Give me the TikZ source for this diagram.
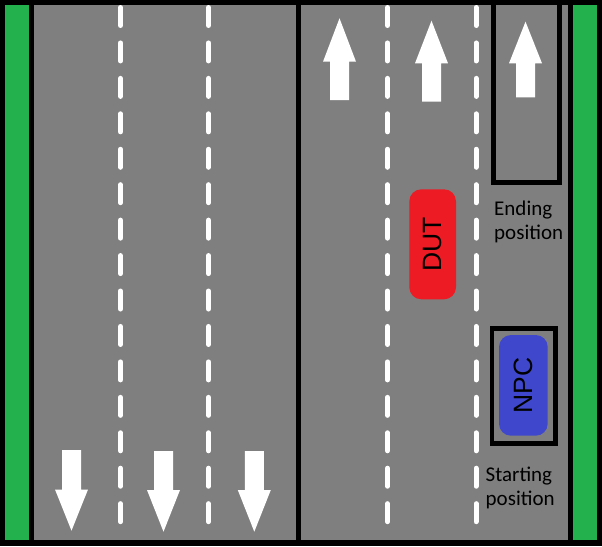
\documentclass[tikz,border=0pt]{standalone}
\usepackage{fontspec}
\setmainfont{Carlito}
\newfontfamily\carfont{Liberation Sans}
\definecolor{roadgray}{HTML}{7F7F7F}
\definecolor{verge}{HTML}{22B14C}
\definecolor{dutred}{HTML}{ED1C24}
\definecolor{npcblue}{HTML}{3F48CC}
\newcommand\roadarrow[4]{%
  \fill[arrowfill] (#1,#2) -- (#1+16.5,#3) -- (#1+9.5,#3) -- (#1+9.5,#4)
     -- (#1-9.5,#4) -- (#1-9.5,#3) -- (#1-16.5,#3) -- cycle;}
\begin{document}
\begin{tikzpicture}[x=1pt,y=-1pt,
  arrowfill/.style={fill=white},
  lanedash/.style={draw=white,line width=5pt,line cap=round,dash pattern=on 18pt off 17.44pt},
  carbox/.style={rectangle,rounded corners=12pt,inner sep=0pt,rotate=90,
     font=\carfont\fontsize{26.5}{30}\selectfont},
  posbox/.style={rectangle,draw=black,inner sep=0pt},
  poslabel/.style={inner sep=0pt,anchor=base west,font=\fontsize{21}{24}\selectfont}]
\useasboundingbox (0,0) rectangle (602,546);
% background and verges
\fill[black] (0,0) rectangle (602,546);
\fill[verge] (5,5) rectangle (29,540);
\fill[verge] (573,5) rectangle (597,540);
\fill[roadgray] (34,5) rectangle (568,540);
% centre line
\draw[black,line width=5pt] (298.5,5) -- (298.5,540);
% lane dashes
\foreach \lx in {120.5,208.5,387.5,476} {
  \draw[lanedash] (\lx,7.5) -- (\lx,535);
}
% arrows
\roadarrow{339.5}{18.3}{61.7}{100}
\roadarrow{431.5}{20.7}{63.3}{101.7}
\roadarrow{525.5}{21.7}{63.3}{97.3}
\roadarrow{71.5}{530.7}{489.5}{450}
\roadarrow{163.5}{531.7}{490}{451}
\roadarrow{254.3}{531.7}{490}{451}
% ending position box
\node[posbox,line width=5pt,minimum width=65.5pt,minimum height=180pt] (endbox) at (526.25,92.5) {};
\node[poslabel] (endl1) at (494,215) {Ending};
\node[poslabel] (endl2) at (494,239) {position};
% NPC start box
\node[posbox,line width=4.5pt,minimum width=63.5pt,minimum height=115.2pt] (startbox) at (523.75,385.9) {};
\node[carbox,fill=npcblue,minimum width=100.7pt,minimum height=48.7pt] (npc) at (523.35,385.35) {NPC};
\node[poslabel] (startl1) at (485.5,481.7) {Starting};
\node[poslabel] (startl2) at (485.5,505) {position};
% DUT car
\node[carbox,fill=dutred,minimum width=110pt,minimum height=46.7pt] (dut) at (432.65,244.3) {DUT};
\end{tikzpicture}
\end{document}
